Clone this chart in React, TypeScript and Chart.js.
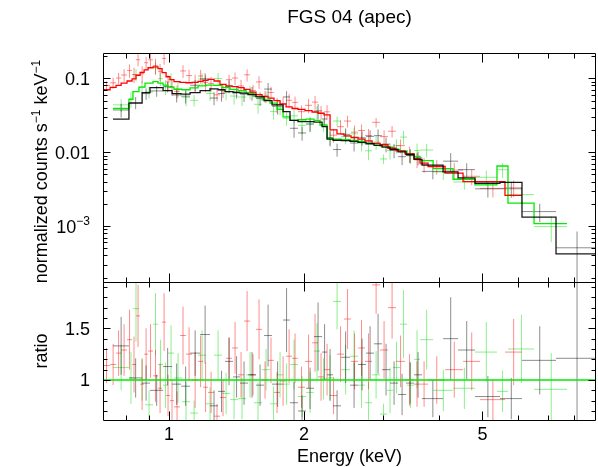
import React, { useEffect, useRef } from 'react';
import { Chart, registerables } from 'chart.js';

Chart.register(...registerables);

const FONT = '"Liberation Sans", Arial, Helvetica, sans-serif';

// ---- axis ranges and ticks ----
const xRange = [0.7125, 8.955];
const countsRange = [1.75e-4, 0.22];
const ratioRange = [0.613, 1.948];

const xMajorTicks = [1, 2, 5];
const xMajorLabels = ['1', '2', '5'];
const xMinorTicks = [0.8, 0.9, 3, 4, 6, 7, 8];

const countsMajorTicks = [0.001, 0.01, 0.1];
const countsMajorLabels = [['10', '\u22123'], ['0.01', ''], ['0.1', '']];
const countsMinorTicks = [
  0.0002, 0.0003, 0.0004, 0.0005, 0.0006, 0.0007, 0.0008, 0.0009,
  0.002, 0.003, 0.004, 0.005, 0.006, 0.007, 0.008, 0.009,
  0.02, 0.03, 0.04, 0.05, 0.06, 0.07, 0.08, 0.09, 0.2,
];

const ratioMajorTicks = [1, 1.5];
const ratioMajorLabels = ['1', '1.5'];
const ratioMinorTicks = [0.7, 0.8, 0.9, 1.1, 1.2, 1.3, 1.4, 1.6, 1.7, 1.8, 1.9];

// ---- black spectrum (bin edges in keV, model, ratio, ratio error) ----
const blackEdges = [0.750, 0.814, 0.871, 0.907, 0.970, 1.016, 1.064, 1.114, 1.173, 1.234, 1.286, 1.333, 1.389, 1.440, 1.500, 1.563, 1.629, 1.697, 1.796, 1.861, 1.939, 2.021, 2.105, 2.194, 2.251, 2.321, 2.419, 2.533, 2.639, 2.750, 2.865, 2.985, 3.110, 3.241, 3.377, 3.518, 3.666, 4.084, 4.410, 4.812, 5.469, 6.124, 7.293, 8.955];
const blackModel = [0.028, 0.046, 0.064, 0.075, 0.068, 0.062, 0.061, 0.064, 0.068, 0.072, 0.070, 0.066, 0.064, 0.063, 0.060, 0.056, 0.050, 0.0436, 0.0354, 0.027, 0.026, 0.026, 0.0255, 0.0222, 0.015, 0.0145, 0.0143, 0.0140, 0.0136, 0.0130, 0.0124, 0.0117, 0.0109, 0.0101, 0.0093, 0.0080, 0.0067, 0.0054, 0.0045, 0.0038, 0.0039, 0.00132, 0.00042];
const blackRatio = [1.33, 1.02, 0.97, 0.90, 1.13, 0.96, 0.94, 1.26, 1.44, 0.75, 0.89, 1.18, 1.03, 0.97, 1.05, 0.95, 1.43, 0.96, 1.58, 0.78, 0.70, 0.92, 1.42, 1.27, 1.05, 0.75, 1.22, 0.95, 1.15, 1.26, 1.35, 1.10, 0.97, 0.86, 0.97, 1.05, 0.82, 1.40, 1.29, 0.84, 0.82, 1.19, 1.21];
const blackRatioErr = [0.28, 0.19, 0.17, 0.15, 0.18, 0.20, 0.19, 0.22, 0.28, 0.15, 0.20, 0.23, 0.20, 0.21, 0.22, 0.20, 0.30, 0.22, 0.31, 0.20, 0.15, 0.20, 0.33, 0.27, 0.25, 0.15, 0.25, 0.22, 0.25, 0.26, 0.29, 0.25, 0.21, 0.20, 0.20, 0.22, 0.18, 0.40, 0.28, 0.20, 0.20, 0.33, 0.80];

// ---- red spectrum ----
const redEdges = [0.712, 0.739, 0.762, 0.782, 0.806, 0.827, 0.844, 0.862, 0.880, 0.898, 0.921, 0.945, 0.965, 0.985, 1.005, 1.026, 1.058, 1.091, 1.126, 1.161, 1.191, 1.222, 1.260, 1.299, 1.340, 1.382, 1.425, 1.470, 1.516, 1.563, 1.612, 1.662, 1.714, 1.768, 1.824, 1.881, 1.939, 2.010, 2.084, 2.149, 2.216, 2.286, 2.369, 2.456, 2.546, 2.639, 2.735, 2.836, 2.955, 3.078, 3.208, 3.359, 3.518, 3.628, 3.781, 4.126, 4.525, 4.937, 5.612, 6.124];
const redModel = [0.070, 0.0755, 0.080, 0.086, 0.092, 0.098, 0.110, 0.120, 0.130, 0.139, 0.143, 0.135, 0.119, 0.105, 0.096, 0.090, 0.088, 0.087, 0.088, 0.091, 0.094, 0.097, 0.092, 0.083, 0.079, 0.077, 0.075, 0.071, 0.065, 0.060, 0.057, 0.054, 0.050, 0.045, 0.041, 0.039, 0.038, 0.0365, 0.035, 0.0335, 0.032, 0.020, 0.0177, 0.0166, 0.0158, 0.0150, 0.0142, 0.0132, 0.0126, 0.0113, 0.0104, 0.0095, 0.0082, 0.0071, 0.0064, 0.0052, 0.0040, 0.0040, 0.0026];
const redRatio = [1.14, 1.15, 1.26, 1.29, 1.39, 1.15, 1.62, 0.96, 1.25, 1.28, 1.04, 0.92, 1.56, 0.85, 0.80, 0.74, 1.43, 1.25, 1.00, 1.18, 0.93, 0.88, 0.65, 0.83, 1.21, 1.31, 1.05, 1.57, 1.05, 1.49, 1.00, 1.19, 0.88, 0.99, 1.23, 1.21, 0.93, 1.18, 1.36, 1.03, 1.10, 0.85, 1.25, 1.59, 1.18, 1.31, 1.18, 1.92, 1.29, 1.70, 1.18, 1.00, 0.96, 0.96, 1.00, 1.10, 1.18, 0.81, 1.27];
const redRatioErr = [0.17, 0.20, 0.22, 0.25, 0.29, 0.27, 0.30, 0.25, 0.25, 0.26, 0.25, 0.24, 0.28, 0.20, 0.20, 0.15, 0.28, 0.26, 0.27, 0.25, 0.24, 0.20, 0.12, 0.18, 0.20, 0.25, 0.22, 0.29, 0.20, 0.29, 0.18, 0.22, 0.20, 0.24, 0.26, 0.24, 0.20, 0.26, 0.28, 0.23, 0.25, 0.18, 0.27, 0.29, 0.27, 0.27, 0.27, 0.28, 0.28, 0.30, 0.25, 0.25, 0.22, 0.22, 0.23, 0.27, 0.28, 0.20, 0.32];

// ---- green spectrum ----
const greenEdges = [0.750, 0.814, 0.831, 0.857, 0.884, 0.921, 0.945, 0.970, 0.995, 1.026, 1.069, 1.114, 1.161, 1.209, 1.260, 1.313, 1.368, 1.425, 1.485, 1.547, 1.612, 1.680, 1.741, 1.796, 1.861, 1.939, 2.021, 2.105, 2.171, 2.251, 2.321, 2.419, 2.533, 2.639, 2.735, 2.836, 2.955, 3.063, 3.158, 3.274, 3.394, 3.518, 3.628, 3.880, 4.299, 4.812, 5.386, 5.699, 6.515, 7.717];
const greenModel = [0.039, 0.052, 0.066, 0.076, 0.086, 0.090, 0.086, 0.081, 0.076, 0.071, 0.070, 0.074, 0.079, 0.081, 0.080, 0.075, 0.071, 0.068, 0.062, 0.057, 0.051, 0.046, 0.038, 0.030, 0.027, 0.0275, 0.028, 0.027, 0.0233, 0.0154, 0.0150, 0.0148, 0.0144, 0.0140, 0.0134, 0.0130, 0.0121, 0.0117, 0.0109, 0.0104, 0.0094, 0.0088, 0.0077, 0.0060, 0.0043, 0.0036, 0.0065, 0.00205, 0.00108];
const greenRatio = [1.12, 1.02, 1.69, 1.00, 0.76, 1.54, 1.15, 0.95, 1.26, 1.02, 0.79, 0.68, 1.24, 0.77, 1.24, 0.87, 0.81, 0.82, 1.05, 0.78, 1.10, 0.77, 1.05, 0.96, 1.15, 0.84, 0.88, 1.28, 1.01, 1.02, 1.76, 1.10, 1.23, 0.95, 0.78, 1.05, 0.67, 0.90, 1.12, 1.54, 0.95, 1.20, 1.39, 0.90, 0.92, 1.27, 0.89, 1.30, 0.91];
const greenRatioErr = [0.22, 0.25, 0.32, 0.20, 0.14, 0.30, 0.24, 0.22, 0.27, 0.24, 0.19, 0.12, 0.24, 0.16, 0.24, 0.20, 0.19, 0.20, 0.22, 0.20, 0.20, 0.17, 0.22, 0.20, 0.24, 0.20, 0.20, 0.27, 0.20, 0.22, 0.27, 0.24, 0.25, 0.22, 0.20, 0.23, 0.10, 0.22, 0.25, 0.33, 0.22, 0.28, 0.29, 0.20, 0.20, 0.29, 0.20, 0.33, 0.35];

const titleText = 'FGS 04 (apec)';
const xTitle = 'Energy (keV)';
const countsTitle = [['normalized counts s', false], ['\u22121', true], [' keV', false], ['\u22121', true]] as [string, boolean][];
const ratioTitle = 'ratio';

// ---- helpers building library datasets ----
type P = { x: number; y: number | null };

function stepPoints(edges: number[], model: number[]): P[] {
  const pts: P[] = model.map((m, i) => ({ x: edges[i], y: m }));
  pts.push({ x: edges[edges.length - 1], y: model[model.length - 1] });
  return pts;
}

function crossPoints(edges: number[], vals: number[], errs: number[], scaleBy?: number[]): P[] {
  const pts: P[] = [];
  for (let i = 0; i < vals.length; i++) {
    const f = scaleBy ? scaleBy[i] : 1;
    const lo = edges[i], hi = edges[i + 1], c = (lo + hi) / 2;
    const v = vals[i] * f, e = errs[i] * f;
    pts.push({ x: lo, y: v }, { x: hi, y: v }, { x: hi, y: null });
    pts.push({ x: c, y: Math.max(v - e, 1e-9) }, { x: c, y: v + e }, { x: c, y: null });
  }
  return pts;
}

function lineDs(data: P[], color: string, width: number, yAxisID: string, stepped: boolean) {
  return {
    data,
    borderColor: color,
    backgroundColor: color,
    borderWidth: width,
    pointRadius: 0,
    pointHoverRadius: 0,
    fill: false,
    tension: 0,
    spanGaps: false,
    stepped: stepped ? 'before' : false,
    yAxisID,
    xAxisID: 'x',
  } as any;
}

function drawRich(ctx: CanvasRenderingContext2D, parts: [string, boolean][], x: number, y: number, align: string, size: number, supSize: number, rise: number) {
  let w = 0;
  for (const [t, sup] of parts) {
    ctx.font = `${sup ? supSize : size}px ${FONT}`;
    w += ctx.measureText(t).width;
  }
  let cx = align === 'center' ? x - w / 2 : align === 'right' ? x - w : x;
  ctx.textAlign = 'left';
  ctx.textBaseline = 'alphabetic';
  for (const [t, sup] of parts) {
    ctx.font = `${sup ? supSize : size}px ${FONT}`;
    ctx.fillText(t, cx, sup ? y - rise : y);
    cx += ctx.measureText(t).width;
  }
}

const axesPlugin = {
  id: 'xspecAxes',
  afterDraw(chart: any) {
    const ctx: CanvasRenderingContext2D = chart.ctx;
    const xs = chart.scales.x, yT = chart.scales.y, yR = chart.scales.y2;
    const L = Math.round(xs.left) + 0.5;
    const R = Math.round(xs.right) - 0.5;
    ctx.save();
    ctx.strokeStyle = '#000';
    ctx.lineWidth = 1;
    ctx.beginPath();
    const panels = [
      { s: yT, major: countsMajorTicks, minor: countsMinorTicks },
      { s: yR, major: ratioMajorTicks, minor: ratioMinorTicks },
    ];
    for (const p of panels) {
      const T = Math.round(p.s.top) + 0.5;
      const B = Math.round(p.s.bottom) + 0.5;
      ctx.rect(L, T, R - L, B - T);
      const xSets: [number[], number][] = [[xMajorTicks, 9], [xMinorTicks, 5]];
      for (const [vals, len] of xSets) {
        for (const v of vals) {
          const px = Math.round(xs.getPixelForValue(v)) + 0.5;
          ctx.moveTo(px, T); ctx.lineTo(px, T + len);
          ctx.moveTo(px, B); ctx.lineTo(px, B - len);
        }
      }
      const ySets: [number[], number][] = [[p.major, 7], [p.minor, 4]];
      for (const [vals, len] of ySets) {
        for (const v of vals) {
          const py = Math.round(p.s.getPixelForValue(v)) + 0.5;
          if (py < T || py > B) continue;
          ctx.moveTo(L, py); ctx.lineTo(L + len, py);
          ctx.moveTo(R, py); ctx.lineTo(R - len, py);
        }
      }
    }
    ctx.stroke();

    ctx.fillStyle = '#000';
    // x tick labels
    ctx.font = `18px ${FONT}`;
    ctx.textAlign = 'center';
    ctx.textBaseline = 'alphabetic';
    xMajorTicks.forEach((v, i) => {
      ctx.fillText(xMajorLabels[i], xs.getPixelForValue(v), yR.bottom + 20);
    });
    // counts tick labels
    countsMajorTicks.forEach((v, i) => {
      const py = yT.getPixelForValue(v);
      const [base, sup] = countsMajorLabels[i];
      const parts: [string, boolean][] = [[base, false]];
      if (sup) parts.push([sup, true]);
      drawRich(ctx, parts, xs.left - 13, py + 6.5, 'right', 18, 12, 8);
    });
    // ratio tick labels
    ratioMajorTicks.forEach((v, i) => {
      const py = yR.getPixelForValue(v);
      drawRich(ctx, [[ratioMajorLabels[i], false]], xs.left - 13, py + 6.5, 'right', 18, 12, 8);
    });
    // x title
    drawRich(ctx, [[xTitle, false]], (xs.left + xs.right) / 2, 462, 'center', 18, 12, 8);
    // main title
    drawRich(ctx, [[titleText, false]], (xs.left + xs.right) / 2, 23, 'center', 19, 12, 8);
    // y titles (rotated)
    ctx.save();
    ctx.translate(47, (yT.top + yT.bottom) / 2 + 4);
    ctx.rotate(-Math.PI / 2);
    drawRich(ctx, countsTitle, 0, 0, 'center', 18, 12, 7);
    ctx.restore();
    ctx.save();
    ctx.translate(47, (yR.top + yR.bottom) / 2);
    ctx.rotate(-Math.PI / 2);
    drawRich(ctx, [[ratioTitle, false]], 0, 0, 'center', 18, 12, 7);
    ctx.restore();
    ctx.restore();
  },
};

export default function App() {
  const ref = useRef<HTMLCanvasElement>(null);
  useEffect(() => {
    document.body.style.margin = '0';
    const canvas = ref.current!;
    const datasets = [
      lineDs([{ x: xRange[0], y: 1 }, { x: xRange[1], y: 1 }], 'rgb(0,235,0)', 1.3, 'y2', false),
      lineDs(stepPoints(blackEdges, blackModel), 'rgba(0,0,0,0.9)', 1.3, 'y', true),
      lineDs(stepPoints(redEdges, redModel), 'rgb(255,0,0)', 1.3, 'y', true),
      lineDs(stepPoints(greenEdges, greenModel), 'rgb(0,235,0)', 1.3, 'y', true),
      lineDs(crossPoints(blackEdges, blackRatio, blackRatioErr, blackModel), 'rgba(0,0,0,0.45)', 1, 'y', false),
      lineDs(crossPoints(redEdges, redRatio, redRatioErr, redModel), 'rgba(255,0,0,0.45)', 1, 'y', false),
      lineDs(crossPoints(greenEdges, greenRatio, greenRatioErr, greenModel), 'rgba(0,220,0,0.45)', 1, 'y', false),
      lineDs(crossPoints(blackEdges, blackRatio, blackRatioErr), 'rgba(0,0,0,0.45)', 1, 'y2', false),
      lineDs(crossPoints(redEdges, redRatio, redRatioErr), 'rgba(255,0,0,0.45)', 1, 'y2', false),
      lineDs(crossPoints(greenEdges, greenRatio, greenRatioErr), 'rgba(0,220,0,0.45)', 1, 'y2', false),
    ];
    const hidden = {
      bounds: 'data',
      ticks: { display: false },
      grid: { display: false },
      border: { display: false },
      title: { display: false },
    };
    const chart = new Chart(canvas, {
      type: 'line',
      data: { datasets },
      options: {
        animation: false,
        responsive: false,
        events: [],
        layout: { padding: { left: 103, right: 2, top: 53, bottom: 47 } },
        plugins: { legend: { display: false }, title: { display: false }, tooltip: { enabled: false } },
        scales: {
          x: {
            type: 'logarithmic', min: xRange[0], max: xRange[1], ...hidden,
            afterFit: (s: any) => { s.height = 0; },
          },
          y: {
            type: 'logarithmic', min: countsRange[0], max: countsRange[1], position: 'left',
            stack: 'panels', stackWeight: 229, weight: 1, ...hidden,
            afterFit: (s: any) => { s.width = 0; },
          },
          y2: {
            type: 'linear', min: ratioRange[0], max: ratioRange[1], position: 'left',
            stack: 'panels', stackWeight: 138, weight: 0, ...hidden,
            afterFit: (s: any) => { s.width = 0; },
          },
        } as any,
      },
      plugins: [axesPlugin],
    } as any);
    return () => chart.destroy();
  }, []);
  return (
    <div style={{ position: 'fixed', left: 0, top: 0, width: 598, height: 467, background: '#fff' }}>
      <canvas ref={ref} width={598} height={467} style={{ display: 'block' }} />
    </div>
  );
}
